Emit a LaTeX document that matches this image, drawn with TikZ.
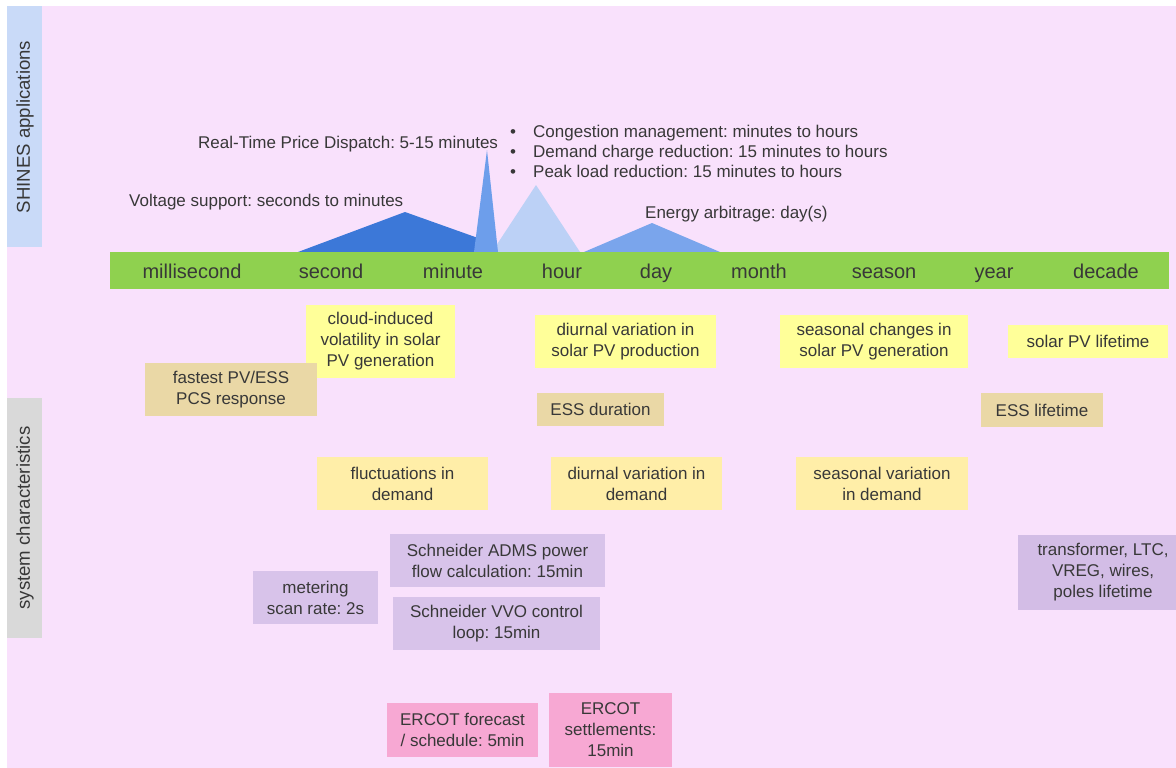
\documentclass[tikz,border=0pt]{standalone}
\usepackage{fontspec}
\setmainfont{Liberation Sans}
\frenchspacing

% palette
\definecolor{canvas}{HTML}{F9E1FC}
\definecolor{appband}{HTML}{C9DAF8}
\definecolor{sysband}{HTML}{D9D9D9}
\definecolor{timebar}{HTML}{8FD14F}
\definecolor{ink}{HTML}{383838}
\definecolor{voltblue}{HTML}{3C78D8}
\definecolor{spikeblue}{HTML}{6D9EEB}
\definecolor{paleblue}{HTML}{BCD1F6}
\definecolor{arbblue}{HTML}{7AA5EC}
\definecolor{sunY}{HTML}{FFFF99}
\definecolor{tanY}{HTML}{EAD8A6}
\definecolor{creamY}{HTML}{FFEEA8}
\definecolor{lilac}{HTML}{D8C3EA}
\definecolor{lilacdeep}{HTML}{D3BDE6}
\definecolor{rose}{HTML}{F7A8D3}

\begin{document}
\begin{tikzpicture}[x=1pt,y=-1pt,
  txt/.style={font=\fontsize{17}{21}\selectfont, text=ink, inner sep=0pt},
  card/.style={txt, align=center},
  tick/.style={font=\fontsize{20}{24}\selectfont, text=ink, inner sep=0pt, anchor=base},
  band/.style={font=\fontsize{18.6}{22}\selectfont, text=ink, inner sep=0pt, rotate=90}
]
\useasboundingbox (0,0) rectangle (1176,768);
\clip (0,0) rectangle (1176,768);

% page background
\fill[canvas] (7,6) rectangle (1180,772);

% row headers
\fill[appband] (7,6) rectangle (42,247);
\node[band] (appsLabel) at (25,127) {SHINES applications};
\fill[sysband] (7,398) rectangle (42,638);
\node[band] (sysLabel) at (25,518) {system characteristics};

% application time-scale peaks
\fill[voltblue] (298,252) -- (405,212) -- (478,238) -- (478,252) -- cycle;
\fill[paleblue] (492,252) -- (536,185) -- (580,252) -- cycle;
\fill[arbblue] (584,252) -- (652,223) -- (720,252) -- cycle;
\fill[spikeblue] (474,252) -- (487,150) -- (498,252) -- cycle;

% time axis
\fill[timebar] (110,252) rectangle (1169,289);
\node[tick] (tMs)     at (192,278)  {millisecond};
\node[tick] (tSec)    at (331,278)  {second};
\node[tick] (tMin)    at (453,278)  {minute};
\node[tick] (tHour)   at (562,278)  {hour};
\node[tick] (tDay)    at (656,278)  {day};
\node[tick] (tMonth)  at (759,278)  {month};
\node[tick] (tSeason) at (884,278)  {season};
\node[tick] (tYear)   at (994,278)  {year};
\node[tick] (tDecade) at (1106,278) {decade};

% application labels
\node[txt, anchor=base west] (rtpd) at (198,148) {Real-Time Price Dispatch: 5-15 minutes};
\node[txt, anchor=base west] (volt) at (129,206) {Voltage support: seconds to minutes};
\node[txt, anchor=base west] (arb)  at (645,218) {Energy arbitrage: day(s)};
\node[txt, anchor=base] (b1) at (513,137) {•};
\node[txt, anchor=base] (b2) at (513,157) {•};
\node[txt, anchor=base] (b3) at (513,177) {•};
\node[txt, anchor=base west] (cong) at (533,137) {Congestion management: minutes to hours};
\node[txt, anchor=base west] (dcr)  at (533,157) {Demand charge reduction: 15 minutes to hours};
\node[txt, anchor=base west] (plr)  at (533,177) {Peak load reduction: 15 minutes to hours};

% solar PV characteristics
\node[card, fill=sunY, minimum width=149pt, minimum height=73pt] (cloud) at (380.5,341.5)
  {cloud-induced\\volatility in solar\\PV generation};
\node[card, fill=sunY, minimum width=181pt, minimum height=53pt] (diurnalPV) at (625.5,341.5)
  {diurnal variation in\\solar PV production};
\node[card, fill=sunY, minimum width=188pt, minimum height=53pt] (seasonPV) at (874,341.5)
  {seasonal changes in\\solar PV generation};
\node[card, fill=sunY, minimum width=160pt, minimum height=33pt] (pvLife) at (1088,341.5)
  {solar PV lifetime};

% storage characteristics
\node[card, fill=tanY, minimum width=172pt, minimum height=53pt] (pcs) at (231,389.5)
  {fastest PV/ESS\\PCS response};
\node[card, fill=tanY, minimum width=127pt, minimum height=33pt] (essDur) at (600.5,409.5)
  {ESS duration};
\node[card, fill=tanY, minimum width=122pt, minimum height=34pt] (essLife) at (1042,410)
  {ESS lifetime};

% demand characteristics
\node[card, fill=creamY, minimum width=171pt, minimum height=53pt] (fluct) at (402.5,483.5)
  {fluctuations in\\demand};
\node[card, fill=creamY, minimum width=171pt, minimum height=53pt] (diurnalDem) at (636.5,483.5)
  {diurnal variation in\\demand};
\node[card, fill=creamY, minimum width=172pt, minimum height=53pt] (seasonDem) at (882,483.5)
  {seasonal variation\\in demand};

% grid operations and assets
\node[card, fill=lilac, minimum width=125pt, minimum height=53pt] (meter) at (315.5,597.5)
  {metering\\scan rate: 2s};
\node[card, fill=lilac, minimum width=215pt, minimum height=53pt] (adms) at (497.5,560.5)
  {Schneider ADMS power\\flow calculation: 15min};
\node[card, fill=lilac, minimum width=207pt, minimum height=53pt] (vvo) at (496.5,623.5)
  {Schneider VVO control\\loop: 15min};
\node[card, fill=lilacdeep, minimum width=170pt, minimum height=75pt] (assets) at (1103,572.5)
  {transformer, LTC,\\VREG, wires,\\poles lifetime};

% market timing
\node[card, fill=rose, minimum width=151pt, minimum height=54pt] (fcst) at (462.5,730)
  {ERCOT forecast\\/ schedule: 5min};
\node[card, fill=rose, minimum width=123pt, minimum height=74pt] (settle) at (610.5,730)
  {ERCOT\\settlements:\\15min};
\end{tikzpicture}
\end{document}
